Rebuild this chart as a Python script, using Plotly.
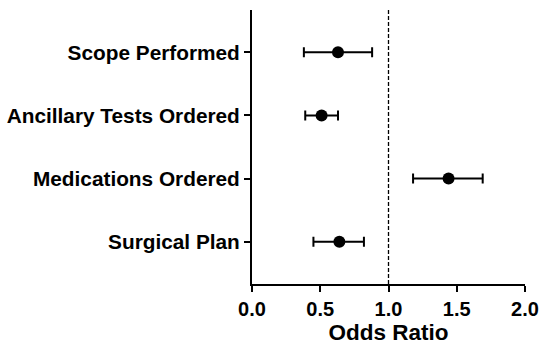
import plotly.graph_objects as go

categories = ["Scope Performed", "Ancillary Tests Ordered", "Medications Ordered", "Surgical Plan"]
odds_ratio = [0.63, 0.51, 1.44, 0.64]
ci_lower = [0.38, 0.39, 1.18, 0.45]
ci_upper = [0.88, 0.63, 1.69, 0.82]
x_ticks = [0.0, 0.5, 1.0, 1.5, 2.0]
x_ticklabels = ["0.0", "0.5", "1.0", "1.5", "2.0"]

err_plus = [u - o for u, o in zip(ci_upper, odds_ratio)]
err_minus = [o - l for o, l in zip(odds_ratio, ci_lower)]

FONT = "Liberation Sans, Arial, sans-serif"

fig = go.Figure()
fig.add_trace(go.Scatter(
    x=odds_ratio, y=categories, mode="markers",
    marker=dict(color="black", size=12),
    error_x=dict(type="data", symmetric=False, array=err_plus, arrayminus=err_minus,
                 color="black", thickness=2, width=5),
    showlegend=False,
))

fig.add_shape(type="line", x0=1, x1=1, y0=0, y1=1, xref="x", yref="y domain",
              line=dict(color="black", width=1.3, dash="4px,2px"))

fig.update_layout(
    width=539, height=346,
    margin=dict(l=252, r=14, t=10, b=62),
    plot_bgcolor="white", paper_bgcolor="white",
    font=dict(family=FONT, color="black"),
    xaxis=dict(
        range=[0, 2], tickvals=x_ticks, ticktext=x_ticklabels,
        automargin=False,
        showline=True, linecolor="black", linewidth=2,
        ticks="outside", ticklen=6, tickwidth=2, tickcolor="black",
        showgrid=False, zeroline=False,
        tickfont=dict(family=FONT, size=20, weight="bold", color="black"),
        title=dict(text="Odds Ratio", font=dict(family=FONT, size=22.5, weight="bold", color="black"),
                   standoff=3),
    ),
    yaxis=dict(
        type="category",
        categoryorder="array", categoryarray=categories[::-1],
        range=[-0.67, 3.67],
        automargin=False,
        showline=True, linecolor="black", linewidth=2,
        ticks="outside", ticklen=6, tickwidth=2, tickcolor="black",
        showgrid=False, zeroline=False,
        tickfont=dict(family=FONT, size=20.8, weight="bold", color="black"),
    ),
)

fig.write_html("out.html")
